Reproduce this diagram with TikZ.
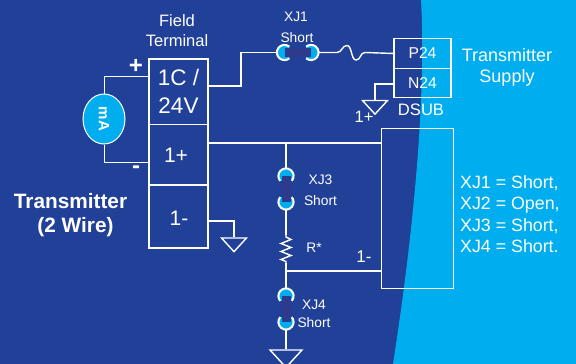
\documentclass[tikz,border=0pt]{standalone}
\usepackage{fontspec}
\setmainfont{Liberation Sans}
\usepackage{xcolor}
\usetikzlibrary{positioning, shapes.geometric}
\definecolor{panelblue}{HTML}{214097}
\definecolor{supplyblue}{HTML}{00AEEF}
\definecolor{linkblue}{HTML}{2E3A8C}
\tikzset{
    wire/.style={draw=white, line width=1.4pt},
    thinwire/.style={draw=white, line width=1pt},
    termbox/.style={draw=white, line width=1.4pt, text=white, minimum width=59pt, inner sep=0pt, outer sep=0pt, align=center, font=\fontsize{22.5}{28}\selectfont},
    termlbl/.style={text=white, inner sep=0pt, font=\fontsize{21}{25}\selectfont},
    dsubbox/.style={draw=white, line width=1.4pt, text=white, minimum width=57pt, minimum height=29.5pt, inner sep=0pt, outer sep=0pt, font=\fontsize{15.7}{18}\selectfont},
    lbl/.style={text=white, inner sep=0pt, align=center},
    jumplbl/.style={text=white, inner sep=0pt, font=\fontsize{13.8}{16}\selectfont},
    contactpt/.style={circle, minimum size=16pt, inner sep=0pt},
    earth/.style={isosceles triangle, shape border rotate=-90, isosceles triangle apex angle=85, draw=white, line width=1.4pt, inner sep=0pt, minimum height=13pt, minimum width=25pt},
    contact/.pic={
        \fill[supplyblue, y=1pt] (50:7.6) arc (50:310:7.6) -- cycle;
        \draw[white, line width=2pt, y=1pt] (50:7.6) arc (50:310:7.6);
    }
}
\begin{document}
\begin{tikzpicture}[x=1pt, y=-1pt]
    \useasboundingbox (0,0) rectangle (576,364);
    % Background panels
    \fill[panelblue] (0,0) rectangle (576,364);
    \fill[supplyblue] (421,0) .. controls (425,70) and (420,190) .. (393,364) -- (576,364) -- (576,0) -- cycle;

    % Field terminal blocks
    \node[termbox, minimum height=65.5pt] (tc) at (178.5,91.75) {1C /\\24V};
    \node[termbox, minimum height=60.5pt, below=0pt of tc] (tp) {};
    \node[termbox, minimum height=63pt, below=0pt of tp] (tn) {};
    \node[termlbl] (tplbl) at (176,155) {1+};
    \node[termlbl] (tnlbl) at (179,218) {1-};
    \node[lbl, font=\fontsize{16.5}{20}\selectfont] (fieldlbl) at (177,31) {Field\\Terminal};

    % Meter
    \node[ellipse, draw=white, fill=supplyblue, line width=1pt, minimum width=42pt, minimum height=50pt, inner sep=0pt] (meter) at (104,119) {};
    \node[text=white, rotate=-90, inner sep=0pt, font=\bfseries\fontsize{15}{18}\selectfont] (meterlbl) at (104,119) {mA};
    \coordinate (mtop) at (149,76);
    \coordinate (mbot) at (149,162);
    \draw[thinwire] (meter.north) |- (mtop);
    \draw[thinwire] (meter.south) |- (mbot);
    \node[text=white, inner sep=0pt, font=\bfseries\fontsize{24}{28}\selectfont] (pluslbl) at (136,66) {+};
    \node[text=white, inner sep=0pt, font=\bfseries\fontsize{24}{28}\selectfont] (minuslbl) at (136,170) {-};
    \node[text=white, inner sep=0pt, font=\bfseries\fontsize{20.8}{24}\selectfont] (txlbl) at (70.5,201) {Transmitter};
    \node[text=white, inner sep=0pt, font=\bfseries\fontsize{20.8}{24}\selectfont] (wirelbl) at (75.5,227) {(2 Wire)};

    % Supply connector
    \node[dsubbox] (p24) at (422.5,53.5) {P24};
    \node[dsubbox, below=0pt of p24] (n24) {N24};
    \node[lbl, font=\fontsize{16.6}{20}\selectfont] (dsublbl) at (421,110) {DSUB};
    \node[lbl, font=\fontsize{18}{21}\selectfont] (supplylbl) at (507,67) {Transmitter\\Supply};

    % Big box and the jumper list
    \node[draw=white, line width=1.4pt, minimum width=71.5pt, minimum height=159.5pt, inner sep=0pt, outer sep=0pt] (iobox) at (417.5,208.5) {};
    \node[text=white, inner sep=0pt, align=left, anchor=west, font=\fontsize{17.8}{21.3}\selectfont] (xjlist) at (460,214) {XJ1 = Short,\\XJ2 = Open,\\XJ3 = Short,\\XJ4 = Short.};

    % Jumper contacts
    \node[contactpt] (xja) at (284.5,52.5) {};
    \node[contactpt] (xjb) at (311,52.5) {};
    \node[contactpt] (xjc) at (286,176) {};
    \node[contactpt] (xjd) at (286,202) {};
    \node[contactpt] (xje) at (286,296) {};
    \node[contactpt] (xjf) at (286,322) {};
    \pic at (xja) {contact};
    \pic[rotate=180] at (xjb) {contact};
    \foreach \pa in {xjc,xje} {
        \pic[rotate=-90] at (\pa) {contact};
    }
    \foreach \pb in {xjd,xjf} {
        \pic[rotate=90] at (\pb) {contact};
    }
    \foreach \pa/\pb in {xja/xjb,xjc/xjd,xje/xjf} {
        \draw[linkblue, line width=9pt] (\pa.center) -- (\pb.center);
    }
    \node[jumplbl] (xj1lbl) at (296,17) {XJ1};
    \node[jumplbl] (xj1st) at (297,38) {Short};
    \node[jumplbl] (xj3lbl) at (320.5,180) {XJ3};
    \node[jumplbl] (xj3st) at (320.5,201) {Short};
    \node[jumplbl] (xj4lbl) at (314,305) {XJ4};
    \node[jumplbl] (xj4st) at (314,323) {Short};
    \node[jumplbl] (rlbl) at (314,248) {R*};
    \node[text=white, inner sep=0pt, font=\fontsize{17}{20}\selectfont] (onelbl) at (364,257) {1-};

    % Grounds
    \node[earth] (gnda) at (375,106) {};
    \node[earth] (gndb) at (234,243.5) {};
    \node[earth, minimum width=32pt] (gndc) at (286,357) {};
    \node[text=white, inner sep=0pt, font=\fontsize{16.5}{20}\selectfont] (gndalbl) at (364,117) {1+};

    % Wiring
    \coordinate (fusea) at (337,52.5);
    \coordinate (fuseb) at (365,52.5);
    \coordinate (rtop) at (286,235);
    \coordinate (rbot) at (286,263);
    \coordinate (rjoin) at (286,271);
    \draw[wire] (tc.east |- 0,86) -- (241,86) |- (xja.west);
    \draw[wire] (xjb.east) -- (fusea) .. controls (342,52.5) and (342,45.5) .. (347,45.5) .. controls (352,45.5) and (351,60) .. (356,60) .. controls (361,60) and (360,52.5) .. (fuseb) -- (p24.west);
    \draw[wire] (n24.west |- 0,84) -| (gnda.north);
    \draw[wire] (tn.east |- 0,221) -| (gndb.north);
    \draw[wire] (tp.east |- 0,143) -- (iobox.west |- 0,143);
    \draw[wire] (xjc.north) -- (xjc.north |- 0,143);
    \draw[wire] (xjd.south) -- (rtop);
    \draw[wire] (rtop) -- ++(0,2) -- ++(5,2.5) -- ++(-10,4) -- ++(10,4) -- ++(-10,4) -- ++(10,4) -- ++(-10,4) -- ++(5,2) -- (rbot);
    \draw[wire] (rbot) -- (rjoin) -- (xje.north);
    \draw[wire] (rjoin) -- (iobox.west |- rjoin);
    \draw[wire] (xjf.south) -- (gndc.north);
\end{tikzpicture}
\end{document}
